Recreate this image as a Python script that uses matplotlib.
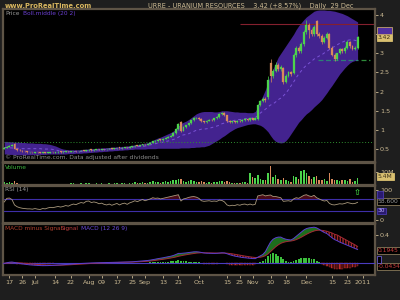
import matplotlib
matplotlib.use('Agg')
import matplotlib.pyplot as plt
import numpy as np

# ---------------- data (trading-day index 0 = 15 Jun 2010 ... 138 = 29 Dec 2010)
opens = [0.50,0.53,0.56,0.58,0.64,0.50,0.47,0.46,0.44,0.43,
         0.42,0.42,0.41,0.42,0.41,0.40,0.41,0.40,0.41,0.42,
         0.41,0.42,0.43,0.42,0.43,0.44,0.43,0.44,0.45,0.44,
         0.45,0.46,0.45,0.47,0.48,0.47,0.48,0.49,0.48,0.50,
         0.49,0.50,0.51,0.50,0.52,0.53,0.52,0.54,0.55,0.54,
         0.56,0.57,0.59,0.58,0.60,0.62,0.61,0.63,0.66,0.70,
         0.72,0.74,0.73,0.76,0.80,0.82,0.85,0.92,1.02,1.20,
         0.98,1.08,1.12,1.17,1.25,1.30,1.32,1.28,1.22,1.20,
         1.24,1.27,1.25,1.30,1.33,1.42,1.45,1.38,1.22,1.20,
         1.22,1.20,1.24,1.22,1.26,1.28,1.25,1.30,1.27,1.28,
         1.65,1.75,1.82,1.85,2.75,2.40,2.55,2.70,2.60,2.62,
         2.25,2.40,2.50,2.48,2.95,3.15,3.05,3.25,3.55,3.75,
         3.60,3.50,3.85,3.50,3.45,3.30,3.40,3.50,3.15,2.95,
         2.85,3.00,3.10,3.05,3.15,3.30,3.20,3.12,3.15]
closes = [0.53,0.56,0.58,0.60,0.50,0.47,0.46,0.44,0.43,0.42,
          0.42,0.41,0.42,0.41,0.40,0.41,0.40,0.41,0.42,0.41,
          0.42,0.43,0.42,0.43,0.44,0.43,0.44,0.45,0.44,0.45,
          0.46,0.45,0.47,0.48,0.47,0.48,0.49,0.48,0.50,0.49,
          0.50,0.51,0.50,0.52,0.53,0.52,0.54,0.55,0.54,0.56,
          0.57,0.59,0.58,0.60,0.62,0.61,0.63,0.66,0.70,0.72,
          0.74,0.73,0.76,0.80,0.82,0.85,0.92,1.02,1.15,0.98,
          1.08,1.12,1.17,1.25,1.30,1.32,1.28,1.22,1.20,1.24,
          1.27,1.25,1.30,1.33,1.42,1.45,1.38,1.22,1.20,1.22,
          1.20,1.24,1.22,1.26,1.28,1.25,1.30,1.27,1.30,1.65,
          1.75,1.82,1.78,2.30,2.40,2.55,2.70,2.60,2.65,2.25,
          2.40,2.50,2.45,2.95,3.15,3.05,3.25,3.55,3.75,3.60,
          3.50,3.70,3.50,3.45,3.30,3.40,3.50,3.15,2.95,2.85,
          3.00,3.10,3.05,3.15,3.30,3.20,3.12,3.15,3.42]
highs = [0.56,0.58,0.60,0.62,0.66,0.52,0.49,0.47,0.45,0.44,
         0.43,0.43,0.43,0.43,0.42,0.42,0.42,0.42,0.43,0.43,
         0.43,0.44,0.44,0.44,0.45,0.45,0.45,0.46,0.46,0.46,
         0.47,0.47,0.48,0.49,0.49,0.49,0.50,0.50,0.51,0.51,
         0.51,0.52,0.52,0.53,0.54,0.54,0.55,0.56,0.56,0.57,
         0.58,0.60,0.60,0.61,0.63,0.63,0.64,0.68,0.72,0.74,
         0.76,0.76,0.78,0.82,0.84,0.87,0.94,1.05,1.18,1.24,
         1.10,1.14,1.19,1.27,1.33,1.35,1.34,1.30,1.24,1.26,
         1.29,1.29,1.32,1.36,1.44,1.48,1.47,1.40,1.25,1.24,
         1.24,1.26,1.26,1.28,1.30,1.30,1.32,1.31,1.32,1.68,
         1.78,1.86,1.85,2.40,2.85,2.60,2.78,2.75,2.70,2.65,
         2.45,2.55,2.55,3.00,3.20,3.20,3.30,3.60,3.87,3.78,
         3.65,3.75,3.88,3.55,3.50,3.45,3.55,3.52,3.18,3.00,
         3.02,3.15,3.15,3.18,3.35,3.32,3.22,3.20,3.45]
lows = [0.49,0.52,0.55,0.57,0.49,0.46,0.45,0.43,0.42,0.41,
        0.40,0.40,0.40,0.40,0.39,0.39,0.39,0.39,0.40,0.40,
        0.40,0.41,0.41,0.41,0.42,0.42,0.42,0.43,0.43,0.43,
        0.44,0.44,0.44,0.46,0.46,0.46,0.47,0.47,0.47,0.48,
        0.48,0.49,0.49,0.49,0.51,0.51,0.51,0.53,0.53,0.53,
        0.55,0.56,0.57,0.57,0.59,0.60,0.60,0.62,0.65,0.69,
        0.71,0.72,0.72,0.75,0.79,0.81,0.84,0.90,1.00,0.95,
        0.96,1.06,1.10,1.15,1.23,1.28,1.26,1.20,1.18,1.19,
        1.22,1.23,1.24,1.28,1.31,1.40,1.36,1.20,1.18,1.18,
        1.18,1.19,1.20,1.21,1.24,1.23,1.24,1.25,1.26,1.27,
        1.62,1.72,1.74,1.82,2.25,2.35,2.52,2.55,2.55,2.20,
        2.22,2.38,2.40,2.45,2.90,3.00,3.02,3.20,3.50,3.40,
        3.45,3.45,3.45,3.40,3.25,3.28,3.38,3.12,2.92,2.80,
        2.83,2.97,3.00,3.02,3.12,3.15,3.08,3.08,3.12]
boll_up = [0.70,0.70,0.69,0.69,0.68,0.68,0.68,0.67,0.67,0.66,
           0.66,0.66,0.65,0.65,0.65,0.64,0.64,0.63,0.62,0.60,
           0.58,0.55,0.52,0.50,0.49,0.48,0.48,0.48,0.48,0.48,
           0.49,0.49,0.50,0.50,0.51,0.51,0.52,0.52,0.53,0.53,
           0.54,0.54,0.55,0.55,0.56,0.56,0.57,0.57,0.58,0.59,
           0.60,0.61,0.62,0.63,0.64,0.65,0.67,0.70,0.73,0.76,
           0.79,0.81,0.84,0.87,0.90,0.93,0.97,1.02,1.10,1.17,
           1.20,1.23,1.27,1.32,1.37,1.42,1.45,1.47,1.48,1.48,
           1.48,1.48,1.47,1.47,1.48,1.50,1.50,1.50,1.49,1.48,
           1.47,1.47,1.46,1.46,1.46,1.45,1.45,1.45,1.48,1.60,
           1.75,1.90,2.05,2.25,2.45,2.60,2.75,2.90,3.00,3.10,
           3.20,3.30,3.40,3.50,3.62,3.72,3.80,3.88,3.95,4.00,
           4.05,4.10,4.12,4.13,4.13,4.13,4.12,4.12,4.11,4.10,
           4.08,4.06,4.04,4.01,3.98,3.94,3.90,3.86,3.82]
boll_mid = [0.54,0.54,0.53,0.53,0.52,0.52,0.52,0.51,0.51,0.51,
            0.51,0.51,0.51,0.51,0.51,0.50,0.50,0.50,0.50,0.49,
            0.48,0.46,0.45,0.44,0.43,0.43,0.43,0.43,0.44,0.44,
            0.44,0.45,0.45,0.46,0.46,0.47,0.47,0.48,0.48,0.49,
            0.49,0.50,0.50,0.51,0.51,0.52,0.52,0.53,0.53,0.54,
            0.55,0.56,0.56,0.57,0.57,0.58,0.59,0.61,0.62,0.64,
            0.66,0.67,0.68,0.70,0.71,0.73,0.75,0.77,0.81,0.85,
            0.87,0.88,0.90,0.93,0.96,0.99,1.00,1.02,1.02,1.03,
            1.04,1.06,1.08,1.10,1.12,1.16,1.18,1.20,1.22,1.24,
            1.25,1.27,1.27,1.28,1.29,1.30,1.30,1.31,1.32,1.37,
            1.44,1.49,1.54,1.60,1.65,1.68,1.73,1.79,1.83,1.89,
            1.96,2.05,2.15,2.25,2.36,2.46,2.54,2.62,2.69,2.74,
            2.79,2.85,2.89,2.93,2.96,3.01,3.05,3.10,3.14,3.18,
            3.22,3.26,3.29,3.32,3.34,3.35,3.35,3.34,3.32]
boll_low = [0.37,0.37,0.36,0.36,0.35,0.35,0.35,0.35,0.35,0.35,
            0.35,0.35,0.36,0.36,0.36,0.36,0.36,0.37,0.37,0.37,
            0.37,0.37,0.37,0.37,0.37,0.38,0.38,0.38,0.39,0.39,
            0.39,0.40,0.40,0.41,0.41,0.42,0.42,0.43,0.43,0.44,
            0.44,0.45,0.45,0.46,0.46,0.47,0.47,0.48,0.48,0.49,
            0.49,0.50,0.50,0.50,0.50,0.50,0.51,0.51,0.51,0.51,
            0.52,0.52,0.52,0.52,0.52,0.52,0.52,0.52,0.52,0.53,
            0.53,0.53,0.53,0.54,0.54,0.55,0.55,0.56,0.56,0.58,
            0.60,0.64,0.68,0.72,0.76,0.81,0.85,0.90,0.95,0.99,
            1.03,1.06,1.08,1.10,1.12,1.14,1.15,1.16,1.16,1.14,
            1.12,1.08,1.02,0.95,0.85,0.76,0.70,0.67,0.66,0.67,
            0.72,0.80,0.90,1.00,1.10,1.20,1.27,1.35,1.42,1.47,
            1.53,1.60,1.66,1.72,1.79,1.88,1.97,2.07,2.16,2.26,
            2.36,2.46,2.54,2.62,2.69,2.75,2.79,2.81,2.82]
volume_m = [2.0,1.5,2.5,1.8,3.2,1.2,1.0,0.8,0.9,0.7,
            0.6,0.8,0.5,0.7,0.9,0.6,0.5,0.8,0.7,0.6,
            0.7,0.9,0.6,0.8,1.0,0.7,1.2,1.5,0.8,1.0,
            1.3,0.9,1.6,1.4,0.8,1.1,1.2,0.9,1.3,0.8,
            1.0,1.2,0.8,1.4,1.5,1.0,1.2,1.4,0.9,1.3,
            1.5,2.0,1.2,1.8,2.2,1.4,1.8,2.5,3.0,2.4,
            2.6,1.8,2.2,3.0,2.5,2.8,3.5,4.0,5.0,4.5,
            3.0,2.5,2.8,3.5,3.0,2.6,2.2,2.8,2.0,1.8,
            2.0,1.8,2.2,2.5,3.0,3.2,2.4,3.0,2.0,1.6,
            1.5,1.8,1.5,2.0,2.2,1.8,9.0,6.0,5.5,8.0,
            5.0,4.0,3.5,9.0,15.0,6.0,8.0,5.0,4.0,5.5,
            3.5,3.0,2.5,7.0,6.0,5.0,10.5,11.5,9.0,7.0,
            4.5,6.0,7.0,4.0,3.5,4.5,3.0,9.5,5.0,4.0,
            3.5,3.0,3.5,4.0,3.0,4.5,2.5,3.0,5.4]
rsi = [60,72,73,68,50,44,41,39,38,37,
       37,36,38,36,35,38,37,40,42,41,
       43,45,43,45,48,46,50,53,51,55,
       58,56,62,63,58,60,58,54,56,52,
       50,53,49,52,55,50,54,56,52,57,
       60,64,61,65,68,64,67,70,74,72,
       73,70,72,74,76,78,80,82,84,63,
       70,72,75,77,78,76,72,64,62,63,
       64,62,63,62,66,65,60,50,47,49,
       48,51,49,52,53,50,53,50,52,80,
       82,84,80,82,83,78,78,76,74,62,
       63,64,62,70,74,72,77,82,84,80,
       78,82,74,70,66,63,65,55,51,50,
       52,54,53,55,58,56,54,55,58.6]
macd = [0.000,0.008,0.015,0.018,0.012,0.005,-0.002,-0.008,-0.013,-0.018,
        -0.022,-0.025,-0.028,-0.030,-0.032,-0.033,-0.033,-0.032,-0.031,-0.029,
        -0.027,-0.025,-0.023,-0.020,-0.017,-0.014,-0.011,-0.008,-0.006,-0.004,
        -0.002,0.000,0.002,0.004,0.005,0.006,0.007,0.008,0.009,0.010,
        0.011,0.012,0.012,0.013,0.014,0.015,0.016,0.017,0.018,0.019,
        0.021,0.024,0.026,0.029,0.033,0.036,0.040,0.045,0.052,0.060,
        0.067,0.072,0.078,0.086,0.093,0.100,0.110,0.124,0.140,0.140,
        0.143,0.147,0.152,0.158,0.162,0.163,0.160,0.153,0.146,0.143,
        0.142,0.140,0.140,0.141,0.145,0.148,0.146,0.135,0.122,0.112,
        0.102,0.095,0.087,0.082,0.078,0.073,0.071,0.067,0.066,0.085,
        0.105,0.125,0.165,0.235,0.300,0.340,0.360,0.370,0.370,0.352,
        0.340,0.333,0.330,0.350,0.380,0.410,0.440,0.470,0.490,0.500,
        0.505,0.510,0.500,0.480,0.455,0.435,0.420,0.390,0.360,0.335,
        0.320,0.300,0.285,0.270,0.255,0.240,0.225,0.210,0.1945]
signal = [0.000,0.002,0.005,0.008,0.009,0.008,0.006,0.003,0.000,-0.004,
          -0.007,-0.011,-0.014,-0.017,-0.020,-0.022,-0.024,-0.026,-0.027,-0.027,
          -0.027,-0.027,-0.026,-0.025,-0.024,-0.022,-0.020,-0.018,-0.015,-0.013,
          -0.011,-0.009,-0.006,-0.004,-0.002,0.000,0.002,0.003,0.005,0.006,
          0.007,0.008,0.009,0.010,0.011,0.012,0.013,0.014,0.015,0.016,
          0.017,0.018,0.020,0.022,0.024,0.026,0.029,0.032,0.036,0.041,
          0.046,0.051,0.056,0.062,0.068,0.074,0.081,0.089,0.099,0.107,
          0.114,0.121,0.127,0.133,0.139,0.144,0.147,0.149,0.149,0.148,
          0.147,0.146,0.145,0.144,0.144,0.145,0.145,0.143,0.139,0.134,
          0.128,0.121,0.115,0.108,0.102,0.096,0.091,0.086,0.082,0.082,
          0.086,0.094,0.108,0.133,0.166,0.201,0.233,0.260,0.282,0.296,
          0.305,0.311,0.315,0.322,0.334,0.350,0.368,0.389,0.409,0.427,
          0.443,0.456,0.465,0.468,0.466,0.460,0.452,0.440,0.428,0.410,
          0.400,0.380,0.360,0.340,0.320,0.300,0.280,0.260,0.238]
macd_hist = [0.000,0.006,0.010,0.010,0.003,-0.003,-0.008,-0.011,-0.013,-0.014,
             -0.015,-0.014,-0.014,-0.013,-0.012,-0.011,-0.009,-0.006,-0.004,-0.002,
             0.000,0.002,0.003,0.005,0.007,0.008,0.009,0.010,0.009,0.009,
             0.009,0.009,0.008,0.008,0.007,0.006,0.005,0.005,0.004,0.004,
             0.004,0.004,0.003,0.003,0.003,0.003,0.003,0.003,0.003,0.003,
             0.004,0.006,0.006,0.007,0.009,0.010,0.011,0.013,0.016,0.019,
             0.021,0.021,0.022,0.024,0.025,0.026,0.029,0.035,0.041,0.033,
             0.029,0.026,0.025,0.025,0.023,0.019,0.013,0.004,-0.003,-0.005,
             -0.005,-0.006,-0.005,-0.003,0.001,0.003,0.001,-0.008,-0.017,-0.022,
             -0.026,-0.026,-0.028,-0.026,-0.024,-0.023,-0.020,-0.019,-0.016,0.003,
             0.019,0.031,0.057,0.102,0.134,0.139,0.127,0.110,0.088,0.056,
             0.035,0.022,0.015,0.028,0.046,0.060,0.072,0.081,0.081,0.073,
             0.062,0.054,0.035,0.012,-0.011,-0.025,-0.032,-0.050,-0.068,-0.075,
             -0.080,-0.080,-0.075,-0.070,-0.065,-0.060,-0.055,-0.050,-0.0434]
resistance_level = 3.77
support_level = 2.83
baseline_level = 0.69
date_tick_pos = [2, 7, 12, 20, 26, 33, 38, 44, 50, 55, 62, 68, 76, 87, 92, 97, 104, 110, 118, 128, 134, 140]
date_tick_labels = ['17', '26', 'Jul', '14', '22', 'Aug', '09', '17', '25', 'Sep', '13', '21',
                    'Oct', '15', '25', 'Nov', '10', '18', 'Dec', '15', '23', '2011']
price_ticks = [0.5, 1, 1.5, 2, 2.5, 3, 3.5, 4]

# ---------------- styling
W, H = 400, 300
BG = '#1e1e1e'
TXT = '#cdbb94'
BORDER = '#5e5446'
UP = '#4cd34c'
DOWN = '#d88a5c'
BAND = '#43238f'
FS = 4.6

fig = plt.figure(figsize=(4, 3), dpi=100, facecolor=BG)
n = len(closes)
idx = np.arange(n)
XMAX = 144.8


def px_axes(x0, y0, x1, y1):
    ax = fig.add_axes([x0 / W, 1 - y1 / H, (x1 - x0) / W, (y1 - y0) / H])
    ax.set_facecolor('black')
    for s in ax.spines.values():
        s.set_color(BORDER)
        s.set_linewidth(1.6)
    ax.set_xlim(-0.5, XMAX)
    ax.tick_params(axis='x', bottom=False, labelbottom=False)
    ax.yaxis.tick_right()
    ax.tick_params(axis='y', colors=TXT, labelsize=FS, length=2, width=0.6, pad=1.5, labelcolor=TXT)
    return ax


def box(ax, y, text, fc, tc, ec=None):
    ax.text(1.008, y, text, transform=ax.get_yaxis_transform(), fontsize=FS - 0.3,
            color=tc, va='center', ha='left', clip_on=False,
            bbox=dict(boxstyle='square,pad=0.15', fc=fc, ec=ec or fc, lw=0.6))


# ---------------- price panel
axp = px_axes(3, 9, 375, 162)
axp.set_ylim(0.162, 4.157)
axp.fill_between(idx, boll_low, boll_up, color=BAND, lw=0, zorder=1)
axp.plot(idx, boll_mid, color='#7a52d6', lw=0.7, ls=(0, (3, 3)), zorder=2)
axp.axhline(baseline_level, color='#2f8f2f', lw=0.7, ls=(0, (1, 2)), zorder=2)
axp.hlines(resistance_level, 92, XMAX, color='#84202e', lw=0.8, zorder=2)
axp.hlines(support_level, 122.5, 138, color='#2d7f76', lw=0.9, ls=(0, (4, 2)), zorder=2)
axp.hlines(support_level, 139.5, 143, color='#2e8b3a', lw=0.9, ls=(0, (4, 2)), zorder=2)
o = np.array(opens); c = np.array(closes)
cols = [UP if cc >= oo else DOWN for oo, cc in zip(o, c)]
axp.vlines(idx, lows, highs, colors=cols, lw=0.5, zorder=3)
body = np.where(np.abs(c - o) < 0.012, 0.012, c - o)
axp.bar(idx, body, bottom=o, width=0.75, color=cols, edgecolor=cols, lw=0.2, zorder=4)
axp.set_yticks(price_ticks)
axp.set_yticklabels(['0.5', '1', '1.5', '2', '2.5', '3', '', '4'])
axp.text(0.006, 0.985, 'Price', transform=axp.transAxes, color='#9a9a9a', fontsize=FS - 0.4, va='top')
axp.text(0.055, 0.985, 'Boll.middle (20 2)', transform=axp.transAxes, color='#6a3fd0', fontsize=FS - 0.4, va='top')
axp.text(0.006, 0.01, '\u00a9 ProRealTime.com. Data adjusted after dividends', transform=axp.transAxes,
         color='#8e8e8e', fontsize=FS - 0.3, va='bottom')
box(axp, closes[-1], f'{closes[-1]:.2f}', '#d9c070', '#3a2e18')
box(axp, boll_mid[-1] + 0.27, f'{boll_up[-1]:.2f}', '#5030a0', '#5030a0', '#c0a070')

# ---------------- volume panel
axv = px_axes(3, 163, 375, 185)
vol_max = 17.0
axv.set_ylim(0, vol_max)
axv.bar(idx, volume_m, width=0.6, color=cols, lw=0)
axv.set_yticks([10])
axv.set_yticklabels(['10M'])
axv.text(0.006, 0.93, 'Volume', transform=axv.transAxes, color='#3fb53f', fontsize=FS - 0.4, va='top')
box(axv, 6.5, f'{volume_m[-1]:.1f}M', '#d9c070', '#3a2e18')

# ---------------- RSI panel
axr = px_axes(3, 186, 375, 223)
axr.set_ylim(-10, 113)
axr.fill_between(idx, 70, rsi, where=np.array(rsi) >= 70, interpolate=True, color='#4a0c16', lw=0, zorder=1)
axr.axhline(70, color='#3e2ea8', lw=0.8, zorder=2)
axr.axhline(30, color='#3e2ea8', lw=0.8, zorder=2)
axr.plot(idx, rsi, color='#a8987c', lw=0.6, zorder=3)
axr.text(idx[-1], 90, '\u21e7', color='#3fd03f', fontsize=6, ha='center', va='center', fontweight='bold')
axr.set_yticks([0, 100])
axr.set_yticklabels(['0', '100'])
axr.text(0.006, 0.96, 'RSI (14)', transform=axr.transAxes, color='#9a9a9a', fontsize=FS - 0.4, va='top')
box(axr, 62, f'{rsi[-1]:.3f}', 'black', '#9a9a9a', '#8a7a5a')
box(axr, 30, '30', '#2a1a70', '#c0b0ff', '#4a3ab0')
box(axr, 85, '  ', '#2a1a70', '#2a1a70', '#4a3ab0')

# ---------------- MACD panel
axm = px_axes(3, 224, 375, 275)
axm.set_ylim(-0.165, 0.555)
m = np.array(macd); s = np.array(signal); h = np.array(macd_hist)
axm.fill_between(idx, m, s, where=m >= s, interpolate=True, color='#1d6e1d', lw=0, zorder=1)
axm.fill_between(idx, m, s, where=m < s, interpolate=True, facecolor='none', edgecolor='#a02828',
                 hatch='||||||', lw=0, zorder=1)
axm.bar(idx[h >= 0], h[h >= 0], width=0.7, color='#3cc03c', lw=0, zorder=2)
axm.bar(idx[h < 0], h[h < 0], width=0.7, facecolor='#3a0808', edgecolor='#c03030', hatch='||||', lw=0.3, zorder=2)
axm.axhline(0, color='#4a3cc0', lw=0.8, zorder=3)
axm.plot(idx, s, color='#a22a34', lw=0.7, zorder=4)
axm.plot(idx, m, color='#5a3ed0', lw=0.7, zorder=5)
axm.set_yticks([0.4])
axm.set_yticklabels(['0.4'])
axm.text(0.006, 0.97, 'MACD minus Signal', transform=axm.transAxes, color='#b0402e', fontsize=FS - 0.4, va='top')
axm.text(0.155, 0.97, 'Signal', transform=axm.transAxes, color='#c04040', fontsize=FS - 0.4, va='top')
axm.text(0.21, 0.97, 'MACD (12 26 9)', transform=axm.transAxes, color='#6a4ad8', fontsize=FS - 0.4, va='top')
box(axm, 0.18, f'{macd[-1]:.4f}', 'black', '#d04040', '#8a7a5a')
box(axm, -0.048, f'{macd_hist[-1]:.4f}', 'black', '#d04040', '#8a7a5a')
box(axm, 0.05, ' ', 'black', 'black', '#6a5acd')

axm.tick_params(axis='x', bottom=True, labelbottom=True, colors=TXT, labelsize=FS, length=2, width=0.6, pad=1.5)
axm.set_xticks(date_tick_pos)
axm.set_xticklabels(date_tick_labels)

# ---------------- header
fig.text(5 / W, 1 - 6 / H, 'www.ProRealTime.com', color='#d9b760', fontsize=FS + 0.3, fontweight='bold', va='center')
fig.text(148 / W, 1 - 6 / H, 'URRE - URANIUM RESOURCES    3.42 (+8.57%)    Daily  29 Dec', color=TXT,
         fontsize=FS + 0.1, va='center')

fig.savefig('out.png', dpi=100, facecolor=BG)
